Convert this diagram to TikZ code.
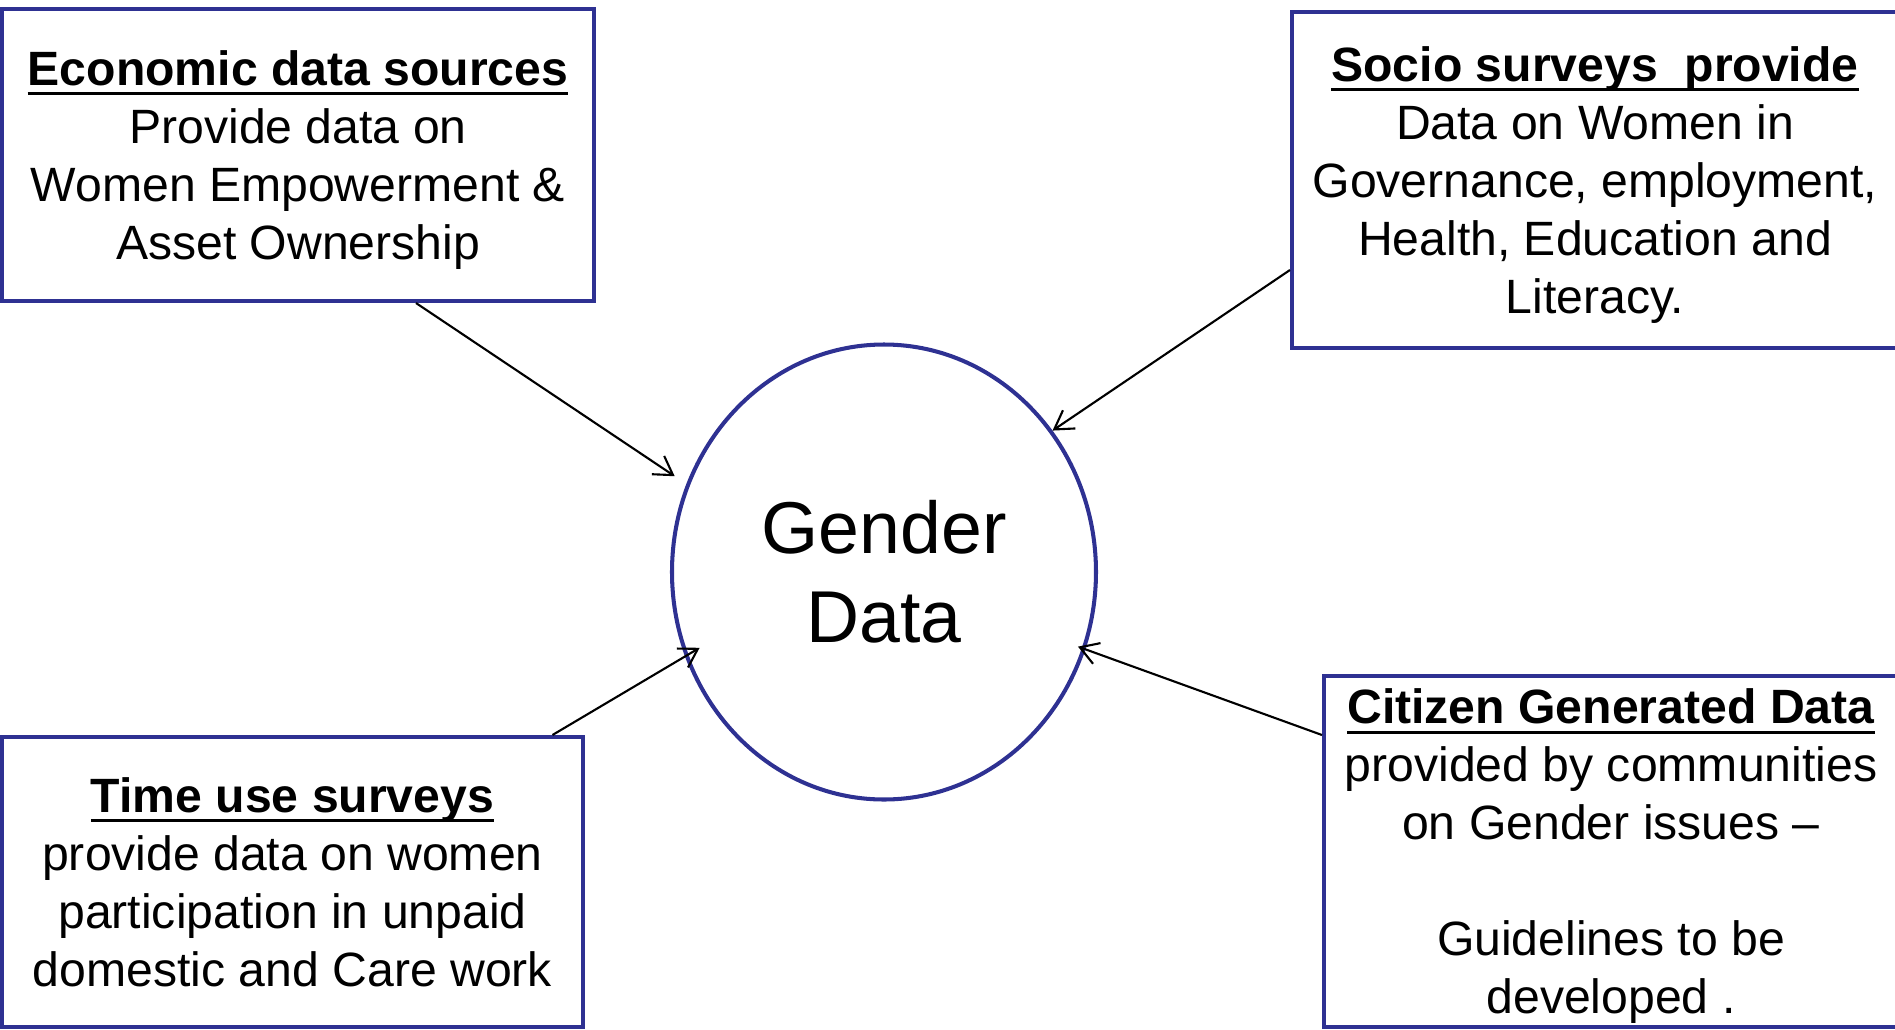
\documentclass[tikz,border=0pt]{standalone}
\usepackage{fontspec}
\setmainfont{Liberation Sans}
\usetikzlibrary{arrows.meta,shapes.geometric}
\definecolor{boxblue}{RGB}{46,49,146}
\newsavebox{\hdrbox}
\newcommand{\hdr}[1]{\sbox{\hdrbox}{\textbf{#1}}\rlap{\rule[-0.2em]{\wd\hdrbox}{0.055em}}\usebox{\hdrbox}}
\tikzset{
  src/.style={rectangle, draw=boxblue, line width=1.15pt, align=center, inner sep=0pt,
    text depth=0pt, font=\fontsize{13.7pt}{16.5pt}\selectfont},
  hub/.style={ellipse, draw=boxblue, line width=1.15pt, align=center, inner sep=0pt,
    minimum width=4.24cm, minimum height=4.55cm,
    font=\fontsize{20.9pt}{25.3pt}\selectfont}
}

\begin{document}
\begin{tikzpicture}[line width=0.6pt, >={Straight Barb[length=1.8mm,width=2.2mm]}]
  \useasboundingbox (0, 0) rectangle (18.95, -10.30);

  \node[src, minimum width=5.92cm, minimum height=2.92cm] (econ) at (2.98, -1.55)
    {\hdr{Economic data sources}\\Provide data on\\Women Empowerment \&\\Asset Ownership};
  \node[src, minimum width=6.06cm, minimum height=3.36cm] (socio) at (15.95, -1.80)
    {\hdr{Socio surveys~ provide}\\Data on Women in\\Governance, employment,\\Health, Education and\\Literacy.};
  \node[src, minimum width=5.81cm, minimum height=2.90cm] (time) at (2.925, -8.82)
    {\hdr{Time use surveys}\\provide data on women\\participation in unpaid\\domestic and Care work};
  \node[src, minimum width=5.74cm, minimum height=3.51cm] (cit) at (16.11, -8.515)
    {\hdr{Citizen Generated Data}\\provided by communities\\on Gender issues --\\[16.5pt]Guidelines to be\\developed .};

  \node[hub] (gd) at (8.84, -5.72) {Gender\\Data};

  \draw[->, shorten >=0.14cm] ([xshift=1.18cm]econ.south) -- (gd.156);
  \draw[->] ([yshift=-0.9cm]socio.west) -- (gd.40);
  \draw[->, shorten >=-0.17cm] ([xshift=2.6cm]time.north) -- (gd.203);
  \draw[->, shorten >=-0.08cm] ([yshift=1.165cm]cit.west) -- (gd.-21);
\end{tikzpicture}
\end{document}
